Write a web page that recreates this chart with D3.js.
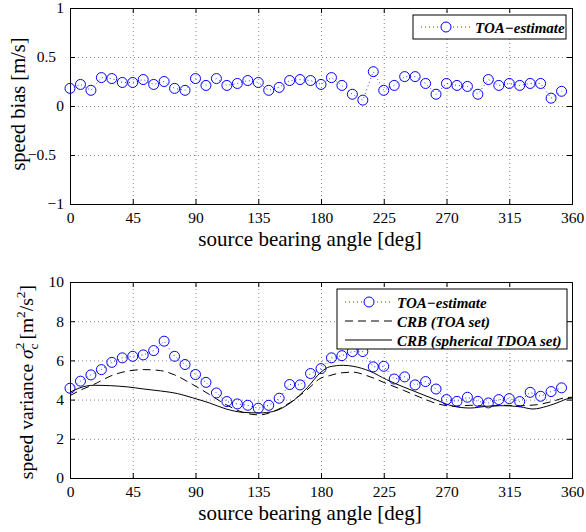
<!DOCTYPE html>
<html><head><meta charset="utf-8">
<script src="https://cdn.jsdelivr.net/npm/d3@7"></script>
<style>
body{margin:0;background:#fff;}
svg{display:block;font-family:"Liberation Serif","Times New Roman",serif;}
</style></head>
<body><svg id="c" width="586" height="532"></svg>
<script>
// ---- data ----
const angles = [0,7.5,15,22.5,30,37.5,45,52.5,60,67.5,75,82.5,90,97.5,105,112.5,120,127.5,135,142.5,150,157.5,165,172.5,180,187.5,195,202.5,210,217.5,225,232.5,240,247.5,255,262.5,270,277.5,285,292.5,300,307.5,315,322.5,330,337.5,345,352.5];
const speedBias = [0.18,0.22,0.16,0.29,0.28,0.24,0.24,0.27,0.22,0.25,0.18,0.16,0.28,0.21,0.28,0.21,0.23,0.26,0.24,0.16,0.19,0.26,0.27,0.26,0.22,0.29,0.21,0.12,0.06,0.35,0.16,0.21,0.30,0.30,0.23,0.12,0.23,0.21,0.20,0.12,0.27,0.21,0.23,0.21,0.23,0.23,0.08,0.15];
const speedVar = [4.58,4.94,5.26,5.53,5.90,6.13,6.21,6.28,6.50,6.98,6.21,5.79,5.28,4.88,4.34,3.90,3.78,3.71,3.56,3.71,4.07,4.77,4.75,5.33,5.58,6.13,6.24,6.45,6.45,5.67,5.70,5.05,5.16,4.75,4.92,4.54,4.00,3.91,4.12,3.91,3.83,4.00,4.05,3.90,4.37,4.17,4.41,4.60];
const crbToaAngles = [0,8,17,29,41,53,65,75,88,100,112,124,136,146,158,170,180,186,194,203,213,227,239,251,263,275,287,299,311,323,335,346,354,360];
const crbToa = [4.2,4.5,4.77,5.2,5.45,5.53,5.48,5.26,4.77,4.26,3.74,3.35,3.22,3.4,3.86,4.5,5.1,5.22,5.36,5.4,5.22,4.82,4.48,4.12,3.8,3.66,3.71,3.66,3.71,3.69,3.74,3.91,4.08,4.12];
const crbTdoaAngles = [0,7,17,29,41,53,65,77,88,100,112,124,136,146,158,170,180,186,196,203,215,227,239,251,263,275,287,299,311,323,332,342,352,356,360];
const crbTdoa = [4.37,4.6,4.73,4.71,4.65,4.54,4.44,4.31,4.09,3.83,3.52,3.35,3.32,3.4,3.83,4.6,5.4,5.67,5.75,5.7,5.45,5.02,4.65,4.31,3.97,3.66,3.57,3.66,3.69,3.63,3.52,3.66,3.91,4.03,4.08];
const xTicks = [0,45,90,135,180,225,270,315,360];
const biasTicks = [-1,-0.5,0,0.5,1];
const biasTickLabels = ["\u22121","\u22120.5","0","0.5","1"];
const varTicks = [0,2,4,6,8,10];
const xTitle = "source bearing angle [deg]";
const legendTop = ["TOA\u2212estimate"];
const legendBottom = ["TOA\u2212estimate","CRB (TOA set)","CRB (spherical TDOA set)"];

const svg = d3.select("#c");
const L = 70, R = 572;
const x = d3.scaleLinear().domain([0,360]).range([L,R]);
const TICKFS = "15.5px", TITLEFS = "21px";

function panel(top, bottom, domain, ticks, tickFmt){
  const y = d3.scaleLinear().domain(domain).range([bottom, top]);
  const g = svg.append("g");
  // grid
  g.append("g").attr("transform",`translate(0,${bottom})`)
    .call(d3.axisBottom(x).tickValues(xTicks).tickSize(-(bottom-top)).tickFormat(""))
    .call(a=>a.select(".domain").remove())
    .selectAll("line").attr("stroke","#000").attr("stroke-width",0.6).attr("stroke-dasharray","1,3").attr("opacity",0.8);
  g.append("g").attr("transform",`translate(${L},0)`)
    .call(d3.axisLeft(y).tickValues(ticks).tickSize(-(R-L)).tickFormat(""))
    .call(a=>a.select(".domain").remove())
    .selectAll("line").attr("stroke","#000").attr("stroke-width",0.6).attr("stroke-dasharray","1,3").attr("opacity",0.8);
  // axes
  const ax = [
    g.append("g").attr("transform",`translate(0,${bottom})`).call(d3.axisBottom(x).tickValues(xTicks).tickSize(-5).tickPadding(8)),
    g.append("g").attr("transform",`translate(0,${top})`).call(d3.axisTop(x).tickValues(xTicks).tickSize(-5).tickFormat("")),
    g.append("g").attr("class","yl").attr("transform",`translate(${L},0)`).call(d3.axisLeft(y).tickValues(ticks).tickSize(-5).tickPadding(6).tickFormat(tickFmt)),
    g.append("g").attr("transform",`translate(${R},0)`).call(d3.axisRight(y).tickValues(ticks).tickSize(-5).tickFormat(""))
  ];
  ax.forEach(a=>{
    a.attr("font-family",null).attr("font-size",null);
    a.select(".domain").attr("stroke","#000").attr("stroke-width",1);
    a.selectAll("line").attr("stroke","#000");
    a.selectAll("text").attr("fill","#000").style("font-size",TICKFS).style("font-family","'Liberation Serif',serif");
  });
  // fractional labels sit further left, as in the reference
  ax[2].selectAll("text").attr("dx", function(){ return this.textContent.indexOf(".")>=0 ? -8 : 0; });
  // x title
  g.append("text").attr("x",310).attr("y",bottom+42).attr("text-anchor","middle")
    .style("font-size",TITLEFS).text(xTitle);
  return {g,y};
}

// ---- top panel ----
const p1 = panel(8, 204, [-1,1], biasTicks, d=>biasTickLabels[biasTicks.indexOf(d)]);
const pts1 = angles.map((a,i)=>[a,speedBias[i]]);
p1.g.append("path").datum(pts1)
  .attr("d", d3.line().x(d=>x(d[0])).y(d=>p1.y(d[1])))
  .attr("fill","none").attr("stroke","#0000ff").attr("stroke-width",0.8).attr("stroke-dasharray","1,3");
p1.g.selectAll("circle.m").data(pts1).join("circle")
  .attr("cx",d=>x(d[0])).attr("cy",d=>p1.y(d[1])).attr("r",5)
  .attr("fill","none").attr("stroke","#0000ff").attr("stroke-width",1);
svg.append("text").attr("transform","translate(25,104) rotate(-90)").attr("text-anchor","middle")
  .style("font-size","20.5px").text("speed bias [m/s]");

// top legend
{
  const lg = svg.append("g");
  lg.append("rect").attr("x",413).attr("y",15).attr("width",153).attr("height",24).attr("fill","#fff").attr("stroke","#000").attr("stroke-width",1);
  lg.append("line").attr("x1",421).attr("x2",470).attr("y1",27).attr("y2",27).attr("stroke","#0000ff").attr("stroke-width",0.8).attr("stroke-dasharray","1,3");
  lg.append("circle").attr("cx",446).attr("cy",27).attr("r",5).attr("fill","#fff").attr("stroke","#0000ff");
  lg.append("text").attr("x",475).attr("y",32.5).style("font-size","15px").style("font-weight","bold").style("font-style","italic").text(legendTop[0]);
}

// ---- bottom panel ----
const p2 = panel(282, 478, [0,10], varTicks, d3.format("d"));
const pts2 = angles.map((a,i)=>[a,speedVar[i]]);
p2.g.append("path").datum(crbToaAngles.map((a,i)=>[a,crbToa[i]]))
  .attr("d", d3.line().curve(d3.curveMonotoneX).x(d=>x(d[0])).y(d=>p2.y(d[1])))
  .attr("fill","none").attr("stroke","#000").attr("stroke-width",1).attr("stroke-dasharray","8,5");
p2.g.append("path").datum(crbTdoaAngles.map((a,i)=>[a,crbTdoa[i]]))
  .attr("d", d3.line().curve(d3.curveMonotoneX).x(d=>x(d[0])).y(d=>p2.y(d[1])))
  .attr("fill","none").attr("stroke","#000").attr("stroke-width",1);
p2.g.append("path").datum(pts2)
  .attr("d", d3.line().x(d=>x(d[0])).y(d=>p2.y(d[1])))
  .attr("fill","none").attr("stroke","#0000ff").attr("stroke-width",0.8).attr("stroke-dasharray","1,3");
p2.g.selectAll("circle.m").data(pts2).join("circle")
  .attr("cx",d=>x(d[0])).attr("cy",d=>p2.y(d[1])).attr("r",5)
  .attr("fill","none").attr("stroke","#0000ff").attr("stroke-width",1);

// bottom y label with math
{
  const t = svg.append("text").attr("transform","translate(33,382) rotate(-90)").attr("text-anchor","middle").style("font-size","19.5px");
  t.append("tspan").text("speed variance ");
  t.append("tspan").style("font-style","italic").text("\u03C3");
  t.append("tspan").attr("dy",-9).style("font-size","13.5px").text("2");
  t.append("tspan").attr("dx",-7).attr("dy",14).style("font-size","13.5px").text("c");
  t.append("tspan").attr("dx",4).attr("dy",-5).text("[m");
  t.append("tspan").attr("dy",-8).style("font-size","13.5px").text("2");
  t.append("tspan").attr("dy",8).text("/s");
  t.append("tspan").attr("dy",-8).style("font-size","13.5px").text("2");
  t.append("tspan").attr("dy",8).text("]");
}

// bottom legend
{
  const lg = svg.append("g");
  lg.append("rect").attr("x",337).attr("y",289).attr("width",230).attr("height",60).attr("fill","#fff").attr("stroke","#000").attr("stroke-width",1);
  const rows = [302,321,340];
  lg.append("line").attr("x1",345).attr("x2",392).attr("y1",rows[0]).attr("y2",rows[0]).attr("stroke","#0000ff").attr("stroke-width",0.8).attr("stroke-dasharray","1,3");
  lg.append("circle").attr("cx",369).attr("cy",rows[0]).attr("r",5).attr("fill","#fff").attr("stroke","#0000ff");
  lg.append("line").attr("x1",345).attr("x2",392).attr("y1",rows[1]).attr("y2",rows[1]).attr("stroke","#000").attr("stroke-dasharray","8,5");
  lg.append("line").attr("x1",345).attr("x2",392).attr("y1",rows[2]).attr("y2",rows[2]).attr("stroke","#000");
  legendBottom.forEach((s,i)=>{
    lg.append("text").attr("x",397).attr("y",rows[i]+5.5).style("font-size","15px").style("font-weight","bold").style("font-style","italic").text(s);
  });
}
</script></body></html>
